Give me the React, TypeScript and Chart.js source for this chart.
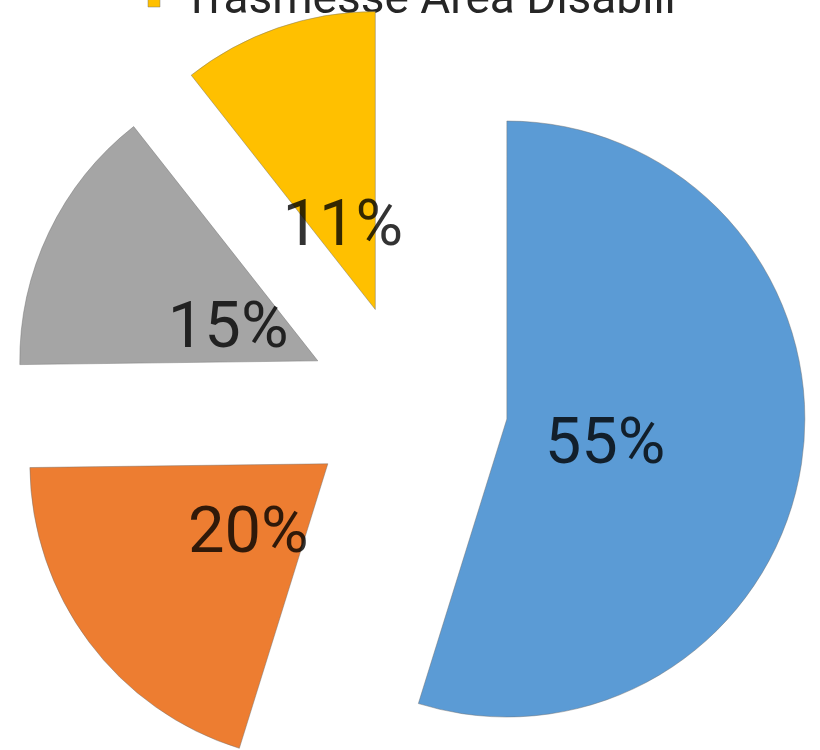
import React, { useEffect, useRef } from 'react';
import { Chart, registerables } from 'chart.js';

Chart.register(...registerables);

// Categories (only the last legend entry is visible in the cropped reference)
const categories = [
  'Trasmesse Area Anziani',
  'Trasmesse Area Minori',
  'Trasmesse Area Adulti',
  'Trasmesse Area Disabili',
];
// Shares (labels show 55%, 20%, 15%, 11%)
const values = [54.8, 20.0, 14.6, 10.6];
const sliceColors = ['#5B9BD5', '#ED7D31', '#A5A5A5', '#FFC000'];
const legendShown = ['Trasmesse Area Disabili'];

const EXPLODE = 100; // px each slice is pulled out along its bisector
const RADIUS = 298;
const SHIFT = 32; // canvas is shifted up: the legend is cropped at the top
const CANVAS_H = 806;
const LABEL_SIZE = 65;

const explodePlugin = {
  id: 'explodeSlices',
  beforeDatasetsDraw(chart: any) {
    chart.getDatasetMeta(0).data.forEach((arc: any) => {
      if (arc.__exploded) return;
      const base = arc.draw.bind(arc);
      arc.draw = (ctx: CanvasRenderingContext2D, area: any) => {
        const mid = (arc.startAngle + arc.endAngle) / 2;
        ctx.save();
        ctx.translate(Math.cos(mid) * EXPLODE, Math.sin(mid) * EXPLODE);
        base(ctx, area);
        ctx.restore();
      };
      arc.__exploded = true;
    });
  },
};

const labelPlugin = {
  id: 'sliceLabels',
  afterDatasetsDraw(chart: any) {
    const meta = chart.getDatasetMeta(0);
    const data: number[] = chart.data.datasets[0].data;
    const total = data.reduce((a, b) => a + b, 0);
    const ctx: CanvasRenderingContext2D = chart.ctx;
    ctx.save();
    ctx.font = `${LABEL_SIZE}px Roboto`;
    ctx.fillStyle = 'rgba(0,0,0,0.8)';
    ctx.textAlign = 'center';
    ctx.textBaseline = 'alphabetic';
    meta.data.forEach((arc: any, i: number) => {
      const { x, y, startAngle, endAngle, outerRadius } = arc.getProps(
        ['x', 'y', 'startAngle', 'endAngle', 'outerRadius'],
        true
      );
      const mid = (startAngle + endAngle) / 2;
      const d = EXPLODE + outerRadius / 3;
      ctx.fillText(
        Math.round((data[i] / total) * 100) + '%',
        x + Math.cos(mid) * d,
        y + Math.sin(mid) * d + LABEL_SIZE * 0.45
      );
    });
    ctx.restore();
  },
};

export default function App() {
  const canvasRef = useRef<HTMLCanvasElement | null>(null);

  useEffect(() => {
    if (!canvasRef.current) return;
    const chart = new Chart(canvasRef.current, {
      type: 'pie',
      data: {
        labels: categories,
        datasets: [
          {
            data: values,
            backgroundColor: sliceColors,
            borderColor: 'rgba(110,110,110,0.45)',
            borderWidth: 1,
            radius: RADIUS,
            clip: false,
          } as any,
        ],
      },
      options: {
        animation: false,
        responsive: true,
        maintainAspectRatio: false,
        events: [],
        layout: { padding: { left: 138, right: 142, top: 0, bottom: 0 } },
        plugins: {
          legend: {
            position: 'top',
            align: 'start',
            labels: {
              font: { family: 'Roboto', size: 46 },
              color: '#262626',
              boxWidth: 12,
              boxHeight: 12,
              padding: 10,
              filter: (item: any) => legendShown.includes(item.text),
            },
          },
          tooltip: { enabled: false },
        },
      },
      plugins: [explodePlugin, labelPlugin],
    });
    return () => chart.destroy();
  }, []);

  return (
    <div
      style={{
        position: 'fixed',
        left: 0,
        top: -SHIFT,
        width: 820,
        height: CANVAS_H,
        background: '#ffffff',
      }}
    >
      <canvas ref={canvasRef} />
    </div>
  );
}
